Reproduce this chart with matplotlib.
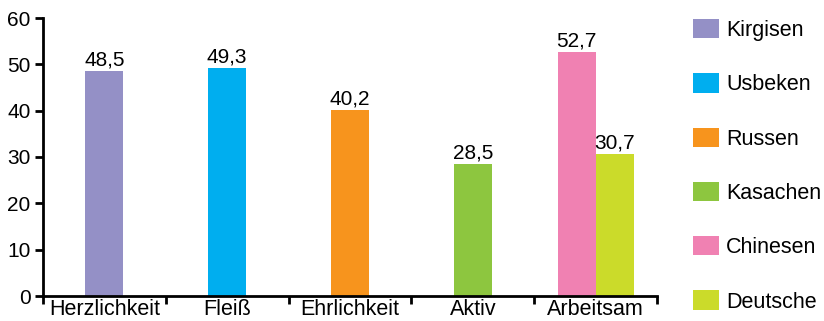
import numpy as np
import matplotlib.pyplot as plt
from matplotlib.patches import Patch

plt.rcParams['font.family'] = ['Liberation Sans', 'DejaVu Sans']

categories = ['Herzlichkeit', 'Fleiß', 'Ehrlichkeit', 'Aktiv', 'Arbeitsam']
groups = ['Kirgisen', 'Usbeken', 'Russen', 'Kasachen', 'Chinesen', 'Deutsche']
colors = ['#9490c6', '#00aeef', '#f7941d', '#8dc63f', '#f081b2', '#cbdb2a']

nan = np.nan
kirgisen = [48.5, nan, nan, nan, nan]
usbeken = [nan, 49.3, nan, nan, nan]
russen = [nan, nan, 40.2, nan, nan]
kasachen = [nan, nan, nan, 28.5, nan]
chinesen = [nan, nan, nan, nan, 52.7]
deutsche = [nan, nan, nan, nan, 30.7]
values = np.array([kirgisen, usbeken, russen, kasachen, chinesen, deutsche])

fig = plt.figure(figsize=(8.24, 3.21), dpi=100)
ax = fig.add_axes([43/824, 1-296/321, (657-43)/824, (296-18)/321])

width = 0.31
for j in range(len(categories)):
    # only the groups that have a value get a bar, centred in the category
    present = [i for i in range(len(groups)) if not np.isnan(values[i, j])]
    n = len(present)
    for k, i in enumerate(present):
        x = j + (k - (n - 1) / 2) * width
        v = values[i, j]
        ax.bar(x, v, width=width, color=colors[i])
        ax.text(x, v + 0.3, f'{v:.1f}'.replace('.', ','), ha='center', va='bottom', fontsize=15)

ax.set_xlim(-0.5, len(categories) - 0.5)
ax.set_ylim(0, 60)
ax.set_yticks(range(0, 61, 10))
ax.set_xticks(np.arange(len(categories) + 1) - 0.5)
ax.set_xticklabels([])
ax.set_xticks(range(len(categories)), categories, minor=True)
ax.tick_params(axis='x', which='major', direction='out', length=6, width=2)
ax.tick_params(axis='x', which='minor', length=0, labelsize=15.5, pad=2)
ax.tick_params(axis='y', direction='out', length=6, width=2, labelsize=15, pad=3)
for s in ['top', 'right']:
    ax.spines[s].set_visible(False)
for s in ['left', 'bottom']:
    ax.spines[s].set_linewidth(2)

handles = [Patch(facecolor=c, edgecolor='none') for c in colors]
fig.legend(handles, groups, loc='upper left', bbox_to_anchor=(693/824, 1 - 19/321),
           frameon=False, fontsize=15.5, handlelength=1.2, handleheight=1.0,
           handletextpad=0.35, labelspacing=1.5, borderpad=0, borderaxespad=0)

fig.savefig('out.png', dpi=100)
